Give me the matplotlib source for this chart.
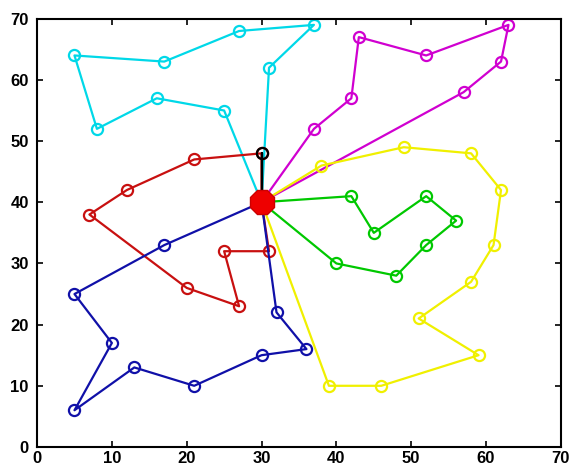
import matplotlib
matplotlib.use('Agg')
import matplotlib.pyplot as plt

depot = (30, 40)

# customer coordinates for each route, in visiting order
cyan_x = [25, 16, 8, 5, 17, 27, 37, 31]
cyan_y = [55, 57, 52, 64, 63, 68, 69, 62]

magenta_x = [37, 42, 43, 52, 63, 62, 57]
magenta_y = [52, 57, 67, 64, 69, 63, 58]

red_x = [31, 25, 27, 20, 7, 12, 21, 30]
red_y = [32, 32, 23, 26, 38, 42, 47, 48]

black_x = [30]
black_y = [48]

blue_x = [17, 5, 10, 5, 13, 21, 30, 36, 32]
blue_y = [33, 25, 17, 6, 13, 10, 15, 16, 22]

green_x = [42, 45, 52, 56, 52, 48, 40]
green_y = [41, 35, 41, 37, 33, 28, 30]

yellow_x = [38, 49, 58, 62, 61, 58, 51, 59, 46, 39]
yellow_y = [46, 49, 48, 42, 33, 27, 21, 15, 10, 10]

routes = [
    (cyan_x, cyan_y, '#00d8e8'),
    (magenta_x, magenta_y, '#d000d0'),
    (yellow_x, yellow_y, '#f0f000'),
    (green_x, green_y, '#00c800'),
    (red_x, red_y, '#c81010'),
    (blue_x, blue_y, '#1010a8'),
    (black_x, black_y, '#000000'),
]

plt.rcParams['font.family'] = ['Liberation Sans Narrow', 'Liberation Sans', 'DejaVu Sans']
plt.rcParams['font.weight'] = 'bold'

fig = plt.figure(figsize=(5.7, 4.69), dpi=100)
ax = fig.add_axes([0.065, 0.047, 0.919, 0.913])

for xs, ys, col in routes:
    px = [depot[0]] + xs + [depot[0]]
    py = [depot[1]] + ys + [depot[1]]
    ax.plot(px, py, '-', color=col, lw=1.6)
    ax.plot(xs, ys, 'o', mfc='none', mec=col, ms=8, mew=1.6)

ax.plot(depot[0], depot[1], marker='8', color='#ee0000', ms=18, mec='#cc0000')

ax.set_xlim(0, 70)
ax.set_ylim(0, 70)
ax.set_xticks(range(0, 71, 10))
ax.set_yticks(range(0, 71, 10))
ax.tick_params(direction='in', top=True, right=True, length=4, width=1.2,
               labelsize=12)
ax.tick_params(axis='x', pad=3)
ax.tick_params(axis='y', pad=6)
for s in ax.spines.values():
    s.set_linewidth(1.5)

fig.savefig('out.png', dpi=100)
